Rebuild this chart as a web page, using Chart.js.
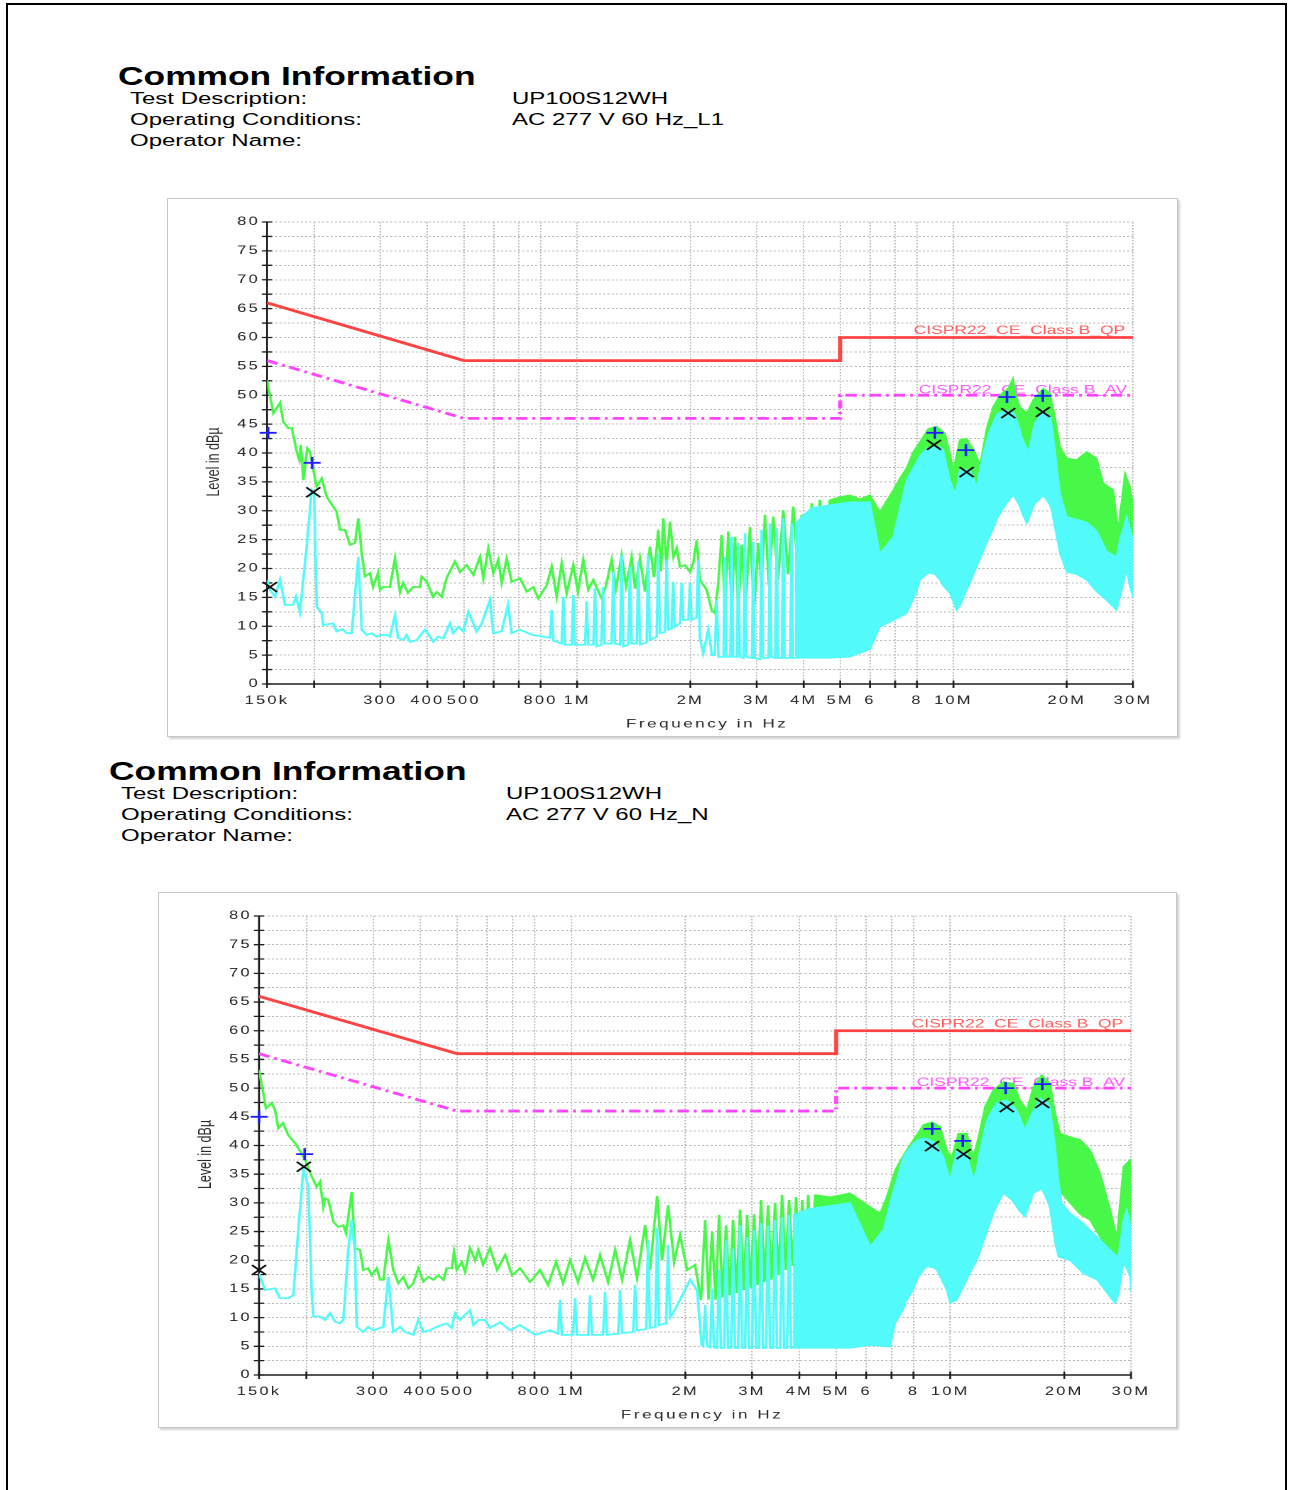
<!DOCTYPE html>
<html>
<head>
<meta charset="utf-8">
<script src="https://cdn.jsdelivr.net/npm/chart.js@4.4.1/dist/chart.umd.min.js"></script>
<style>
  html, body { margin: 0; padding: 0; background: #fff; }
  body { width: 1289px; height: 1490px; position: relative; overflow: hidden;
         font-family: "Liberation Sans", Arial, sans-serif; }
  .page { position: absolute; left: 6px; top: 3px; width: 1281px; height: 1600px;
          border: 2px solid #000; box-sizing: border-box; }
  .t { position: absolute; white-space: nowrap; line-height: 1; color: #000;
       transform-origin: 0 0; }
  .h { font-weight: bold; font-size: 26px; transform: scaleX(1.36); }
  .l { font-size: 16.9px; transform: scaleX(1.42); }
  .frame { position: absolute; border: 1px solid #c6c6c6; box-sizing: border-box;
           box-shadow: 2px 2px 2px rgba(0,0,0,0.18); background: #fff; }
  .wrap { position: absolute; transform-origin: 0 0; transform: scaleX(1.42); }
</style>
</head>
<body>
<div class="page"></div>

<div class="t h" style="left:118px;top:63px">Common Information</div>
<div class="t l" style="left:130px;top:90.7px">Test Description:</div>
<div class="t l" style="left:130px;top:111.7px">Operating Conditions:</div>
<div class="t l" style="left:130px;top:132.7px">Operator Name:</div>
<div class="t l" style="left:512px;top:90.7px">UP100S12WH</div>
<div class="t l" style="left:512px;top:111.7px">AC 277 V 60 Hz_L1</div>

<div class="frame" style="left:167px;top:198px;width:1011px;height:539px"></div>
<div class="wrap" style="left:168px;top:199px;width:711px;height:537px">
  <canvas id="chartL1" width="711" height="537"></canvas>
</div>

<div class="t h" style="left:109px;top:758px">Common Information</div>
<div class="t l" style="left:121px;top:785.7px">Test Description:</div>
<div class="t l" style="left:121px;top:806.7px">Operating Conditions:</div>
<div class="t l" style="left:121px;top:827.7px">Operator Name:</div>
<div class="t l" style="left:506px;top:785.7px">UP100S12WH</div>
<div class="t l" style="left:506px;top:806.7px">AC 277 V 60 Hz_N</div>

<div class="frame" style="left:158px;top:892px;width:1019px;height:536px"></div>
<div class="wrap" style="left:159px;top:893px;width:716px;height:534px">
  <canvas id="chartN" width="716" height="534"></canvas>
</div>

<script>
// ---- axes ----
const freqTicks = [0.15, 0.2, 0.3, 0.4, 0.5, 0.6, 0.7, 0.8, 1, 2, 3, 4, 5, 6, 7, 8, 10, 20, 30];
const freqTickText = ['150k', '', '300', '400', '500', '', '', '800', '1M', '2M', '3M', '4M', '5M', '6', '', '8', '10M', '20M', '30M'];
const levelMin = 0, levelMax = 80, levelStep = 2.5;

// ---- CISPR 22 class B limits (MHz / dBµV) ----
const limitFreq = [0.15, 0.5, 5, 5, 30];
const qpLimit = [66, 56, 56, 60, 60];
const avLimit = [56, 46, 46, 50, 50];
const qpLimitName = 'CISPR22_CE_Class B_QP';
const avLimitName = 'CISPR22_CE_Class B_AV';

// ---- L1: peak trace (MHz / dBµV) ----
const l1PeakFreq = [
  0.150, 0.1559, 0.1624, 0.1657, 0.1709, 0.1745, 0.1773, 0.1799, 0.1828, 0.1844,
  0.1873, 0.1919, 0.1951, 0.1991, 0.2033, 0.2096, 0.2162, 0.2297, 0.2344, 0.2417,
  0.2492, 0.2570, 0.2622, 0.2677, 0.2732, 0.2816, 0.2869, 0.2958, 0.2994, 0.3050,
  0.3183, 0.3282, 0.3384, 0.3447, 0.3554, 0.3665, 0.3825, 0.3865, 0.3985, 0.4141,
  0.4236, 0.4367, 0.4503, 0.4738, 0.4886, 0.5090, 0.5300, 0.5521, 0.5634, 0.5808,
  0.5988, 0.6174, 0.6304, 0.6500, 0.6702, 0.7050, 0.7347, 0.7650, 0.7887, 0.8302,
  0.8561, 0.8826, 0.9100, 0.9381, 0.9768, 1.0054, 1.0383, 1.0707, 1.1040, 1.1622,
  1.193, 1.2355, 1.268, 1.3135, 1.349, 1.3964, 1.425, 1.4693, 1.5149, 1.5617,
  1.6006, 1.6433, 1.670, 1.6944, 1.728, 1.7654, 1.8035, 1.8392, 1.8763, 1.9346,
  1.9947, 2.0355, 2.0782, 2.1208, 2.2097, 2.2782, 2.3245, 2.3718, 2.4216, 2.4712,
  2.5217, 2.5746, 2.6272, 2.6809, 2.7370, 2.801, 2.8793, 2.950, 3.0294, 3.089,
  3.156, 3.234, 3.320, 3.417, 3.530, 3.633, 3.753, 3.851, 3.951, 4.069,
  4.200, 4.313, 4.419, 4.557, 4.698];
const l1PeakLevel = [
  52.6, 46.9, 48.7, 45.4, 44.3, 44.3, 42.3, 40.2, 38.8, 41.4,
  35.3, 40.8, 40.2, 37.1, 34.2, 35.6, 32.4, 29.8, 26.7, 26.7,
  24.1, 24.4, 28.7, 22.7, 18.6, 19.2, 16.8, 19.2, 16.3, 16.8,
  16.8, 21.8, 15.9, 17.5, 15.8, 16.8, 16.8, 18.6, 17.7, 15.1,
  15.9, 15.1, 18.4, 21.2, 19.4, 20.6, 18.9, 22.0, 18.3, 23.5,
  19.2, 21.5, 17.5, 21.7, 17.7, 18.3, 16.0, 16.8, 14.8, 17.1,
  20.3, 15.1, 20.9, 15.7, 20.6, 16.0, 21.5, 16.3, 18.0, 14.8,
  17.0, 21.5, 16.5, 22.3, 17.0, 22.0, 16.5, 21.7, 16.0, 23.8,
  18.5, 26.7, 19.5, 28.7, 20.5, 28.1, 22.0, 23.5, 20.3, 20.6,
  19.4, 21.0, 24.9, 18.0, 16.3, 12.8, 12.2, 17.5, 25.8, 12.8,
  26.4, 13.0, 25.5, 12.8, 24.1, 13.0, 27.2, 12.8, 24.4, 17.0,
  29.3, 17.0, 29.0, 18.0, 30.1, 19.0, 30.7, 20.5, 29.3, 19.0,
  31.3, 23.0, 31.9, 22.0, 31.9];
// dense part of the peak sweep: upper / lower envelope
const l1PeakBandFreq = [
  4.698, 4.994, 5.309, 5.643, 5.999, 6.378, 6.918, 7.208, 7.509, 7.819,
  8.147, 8.571, 9.022, 9.494, 9.789, 9.987, 10.40, 10.84, 11.40, 11.76,
  12.25, 12.75, 13.29, 13.98, 14.41, 14.56, 15.02, 15.65, 16.29, 17.32,
  18.05, 18.61, 19.19, 19.99, 21.25, 22.59, 24.01, 25.00, 26.58, 27.40,
  28.55, 29.43, 30];
const l1PeakBandHigh = [
  31.9, 32.4, 32.7, 32.0, 32.7, 29.8, 33.6, 35.6, 37.4, 40.2,
  41.9, 44.2, 44.6, 43.4, 39.9, 37.1, 42.3, 42.5, 40.2, 37.9,
  44.2, 48.0, 50.0, 51.2, 53.0, 50.6, 48.0, 46.9, 49.2, 51.2,
  50.3, 46.3, 41.1, 39.1, 38.8, 40.2, 39.1, 34.8, 33.6, 26.7,
  36.5, 34.2, 31.0];
const l1PeakBandLow = [
  20, 20, 20, 20, 20, 18, 20, 24, 30, 33,
  36, 38, 38, 37, 33, 31, 35, 35, 32, 32,
  37, 42, 44, 45, 45, 44, 41, 39, 43, 45,
  44, 38, 31, 28, 27, 27, 25, 23, 21, 20,
  26, 25, 22];

// ---- L1: average trace ----
const l1AvgFreq = [
  0.150, 0.1528, 0.1575, 0.1624, 0.1675, 0.1758, 0.1791, 0.1835, 0.1912, 0.1972,
  0.2000, 0.2033, 0.2096, 0.2117, 0.2245, 0.2297, 0.2387, 0.2442, 0.2518, 0.2622,
  0.2677, 0.2761, 0.2846, 0.2935, 0.3026, 0.3120, 0.3183, 0.3282, 0.3343, 0.3452,
  0.3525, 0.3597, 0.3748, 0.3943, 0.4065, 0.4148, 0.4277, 0.4410, 0.4594, 0.4689,
  0.4835, 0.4985, 0.5140, 0.5410, 0.5578, 0.5869, 0.5988, 0.6304, 0.6552, 0.6702,
  0.7050, 0.7600, 0.8480, 0.8561, 0.8650, 0.9100, 0.9191, 0.9290, 0.9680, 0.9768,
  0.9870, 1.0500, 1.0603, 1.0710, 1.1050, 1.1156, 1.1270, 1.1600, 1.1717, 1.1830,
  1.2350, 1.2477, 1.2600, 1.3000, 1.3135, 1.3270, 1.3680, 1.3820, 1.3960, 1.4400,
  1.4540, 1.4690, 1.5300, 1.5451, 1.5600, 1.6270, 1.6433, 1.6600, 1.7120, 1.7295,
  1.7470, 1.7820, 1.8004, 1.8180, 1.8780, 1.8960, 1.9150, 1.9750, 1.9947, 2.0150,
  2.0770, 2.0985, 2.1200, 2.1635, 2.2307, 2.2826, 2.3200, 2.3491, 2.3750, 2.4500,
  2.4712, 2.4920, 2.5530, 2.5746, 2.5960, 2.6590, 2.6809, 2.7030, 2.7700, 2.7934,
  2.8170, 2.9140, 2.9387, 2.9630, 3.0670, 3.0930, 3.1190, 3.2270, 3.2540, 3.2810,
  3.3620, 3.3900, 3.4180, 3.5010, 3.5300, 3.5590, 3.6850, 3.7160, 3.7470, 3.7920];
const l1AvgLevel = [
  18.0, 16.3, 15.1, 18.0, 13.7, 13.7, 15.1, 12.5, 23.8, 33.6,
  33.1, 13.4, 12.3, 10.2, 10.5, 9.1, 9.5, 8.8, 8.8, 22.0,
  9.4, 8.5, 8.8, 8.2, 8.5, 8.5, 8.2, 11.9, 8.0, 7.6,
  8.5, 7.3, 7.6, 9.4, 8.2, 7.3, 8.2, 7.9, 10.5, 8.8,
  9.9, 9.1, 12.5, 9.1, 10.5, 14.5, 8.8, 9.1, 13.7, 8.8,
  9.4, 8.5, 8.0, 12.8, 7.5, 7.0, 15.1, 6.8, 6.8, 15.4,
  6.8, 6.8, 14.3, 6.8, 6.8, 16.6, 6.5, 6.8, 16.8, 7.0,
  7.0, 19.4, 7.0, 6.8, 22.3, 6.5, 6.8, 20.3, 7.0, 7.0,
  21.2, 6.8, 7.2, 22.3, 7.6, 8.2, 22.6, 8.8, 9.0, 21.5,
  9.4, 9.6, 17.7, 9.9, 10.5, 17.5, 11.1, 11.1, 17.5, 11.1,
  11.5, 21.5, 8.0, 5.3, 9.4, 5.0, 5.0, 14.5, 4.7, 4.7,
  22.0, 4.7, 4.7, 25.5, 4.7, 4.7, 24.4, 4.7, 4.5, 26.1,
  4.7, 4.5, 24.6, 4.5, 4.3, 26.7, 4.5, 4.5, 27.8, 4.7,
  4.5, 27.0, 4.5, 4.5, 28.7, 4.5, 4.5, 27.8, 4.5, 4.5];
const l1AvgBandFreq = [
  3.792, 4.200, 4.698, 5.309, 5.999, 6.378, 6.918, 7.509, 7.983, 8.147,
  8.487, 8.660, 8.930, 9.207, 9.394, 9.789, 10.09, 10.20, 10.40, 10.84,
  11.06, 11.52, 12.00, 12.25, 12.50, 13.02, 13.15, 13.84, 14.41, 14.56,
  15.02, 15.18, 15.65, 15.80, 16.29, 16.46, 17.32, 18.05, 18.24, 18.61,
  19.19, 19.99, 21.25, 22.59, 24.01, 25.53, 27.13, 27.69, 28.84, 29.43,
  30];
const l1AvgBandHigh = [
  27.8, 30.5, 31.0, 31.5, 31.5, 22.6, 25.5, 35.3, 38.5, 39.5,
  40.8, 41.0, 41.1, 41.0, 40.5, 35.3, 33.0, 34.0, 37.1, 37.1,
  37.1, 34.2, 39.9, 42.0, 44.0, 46.5, 46.9, 47.4, 47.0, 46.6,
  44.0, 42.8, 40.8, 40.2, 44.0, 45.1, 47.4, 46.3, 45.0, 40.5,
  33.0, 29.0, 28.5, 28.0, 26.5, 23.0, 22.0, 25.0, 29.0, 27.0,
  25.0];
const l1AvgBandLow = [
  4.5, 4.5, 4.5, 4.7, 6.0, 9.9, 11.0, 12.2, 16.0, 18.0,
  19.0, 19.2, 19.0, 18.0, 17.0, 15.7, 13.5, 12.8, 13.5, 16.3,
  17.5, 20.3, 23.0, 24.4, 25.6, 28.4, 29.0, 31.3, 32.7, 32.3,
  30.7, 29.8, 27.8, 28.3, 30.7, 31.2, 32.7, 31.0, 30.1, 27.0,
  22.6, 19.4, 19.0, 18.0, 16.0, 14.5, 12.8, 15.0, 19.7, 17.0,
  15.0];

// ---- L1: final measurement results ----
const l1QpMarkFreq = [0.151, 0.1976, 8.93, 10.79, 13.87, 17.28];
const l1QpMarkLevel = [43.5, 38.3, 43.5, 40.5, 49.7, 49.9];
const l1AvMarkFreq = [0.1528, 0.1991, 8.876, 10.84, 13.98, 17.28];
const l1AvMarkLevel = [16.8, 33.2, 41.4, 36.7, 46.9, 47.1];

// ---- N: peak trace ----
const nPeakFreq = [
  0.150, 0.1565, 0.1620, 0.1653, 0.1687, 0.1736, 0.1792, 0.1867, 0.1944, 0.1984,
  0.2066, 0.2130, 0.2173, 0.2217, 0.2240, 0.2286, 0.2356, 0.2429, 0.2504, 0.2545,
  0.2635, 0.2688, 0.2771, 0.2827, 0.2914, 0.2975, 0.3067, 0.3129, 0.3193, 0.3291,
  0.3392, 0.3497, 0.3605, 0.3716, 0.3831, 0.3949, 0.4071, 0.4196, 0.4326, 0.4459,
  0.4597, 0.4693, 0.4838, 0.4906, 0.4988, 0.5142, 0.5246, 0.5408, 0.5574, 0.5687,
  0.5853, 0.6106, 0.6372, 0.6690, 0.6981, 0.7328, 0.7786, 0.8273, 0.8685, 0.9117,
  0.9514, 0.9928, 1.042, 1.0875, 1.1415, 1.1914, 1.2509, 1.3053, 1.3617, 1.4297,
  1.4918, 1.566, 1.614, 1.685, 1.737, 1.801, 1.868, 1.937, 2.022, 2.122,
  2.200, 2.256, 2.304, 2.353, 2.404, 2.455, 2.508, 2.562, 2.617, 2.673,
  2.731, 2.790, 2.850, 2.911, 2.974, 3.038, 3.103, 3.169, 3.237, 3.307,
  3.378, 3.450, 3.525, 3.601, 3.678, 3.757, 3.838, 3.920, 3.995, 4.070,
  4.145, 4.220, 4.310, 4.401];
const nPeakLevel = [
  53.2, 46.5, 47.4, 46.2, 43.0, 43.9, 41.8, 40.4, 38.6, 37.5,
  34.6, 32.8, 33.7, 29.3, 30.8, 30.5, 26.7, 25.8, 26.1, 24.7,
  31.9, 22.1, 21.8, 18.3, 18.6, 17.4, 18.6, 16.6, 16.6, 23.5,
  18.3, 16.0, 17.1, 15.1, 16.0, 18.6, 16.3, 17.1, 16.6, 17.4,
  16.6, 18.6, 18.6, 21.5, 18.3, 19.7, 18.0, 22.1, 20.0, 21.8,
  19.2, 22.1, 18.3, 20.9, 17.4, 18.6, 16.2, 18.3, 15.7, 19.7,
  16.0, 20.0, 16.2, 20.4, 16.6, 20.9, 16.2, 21.8, 16.6, 23.5,
  16.9, 26.1, 18.3, 31.2, 20.0, 29.6, 19.7, 24.4, 18.3, 19.2,
  13.1, 27.0, 13.1, 25.0, 13.1, 27.9, 13.5, 26.1, 13.9, 27.0,
  14.3, 28.8, 14.8, 27.9, 15.2, 28.0, 15.7, 30.5, 16.2, 29.6,
  16.6, 30.0, 17.4, 31.4, 18.3, 30.5, 19.0, 31.0, 19.5, 30.5,
  20.0, 31.4, 20.0, 31.4];
const nPeakBandFreq = [
  4.401, 4.821, 5.444, 6.150, 6.533, 6.803, 7.155, 7.525, 7.997, 8.499,
  8.943, 9.406, 9.796, 10.10, 10.51, 11.06, 11.52, 11.87, 12.36, 13.00,
  13.82, 14.68, 15.29, 15.93, 16.58, 17.44, 18.36, 18.92, 19.50, 20.72,
  22.03, 23.41, 24.87, 26.43, 27.52, 28.65, 29.85, 30];
const nPeakBandHigh = [
  31.4, 31.0, 31.7, 29.3, 28.2, 31.1, 35.7, 38.3, 41.0, 43.6,
  44.1, 43.3, 39.2, 38.0, 42.1, 42.1, 38.0, 41.5, 46.8, 49.7,
  51.1, 50.8, 47.9, 46.2, 50.2, 52.3, 50.8, 45.6, 42.1, 41.5,
  41.0, 39.2, 35.1, 28.8, 24.1, 36.3, 37.5, 33.0];
const nPeakBandLow = [
  20, 20, 20, 20, 18, 20, 24, 30, 34, 37,
  38, 37, 33, 30, 35, 35, 31, 35, 40, 43,
  44, 43, 41, 39, 43, 45, 44, 37, 32, 30,
  28, 27, 24, 21, 20, 26, 27, 25];

// ---- N: average trace ----
const nAvgFreq = [
  0.150, 0.1556, 0.1653, 0.1704, 0.1792, 0.1848, 0.1905, 0.1964, 0.2024, 0.2066,
  0.2086, 0.2173, 0.2240, 0.2309, 0.2380, 0.2454, 0.2504, 0.2580, 0.2635, 0.2688,
  0.2716, 0.2827, 0.2914, 0.3005, 0.3193, 0.3291, 0.3392, 0.3533, 0.3642, 0.3831,
  0.3949, 0.4071, 0.4240, 0.4417, 0.4693, 0.4838, 0.4935, 0.5088, 0.5246, 0.5408,
  0.5519, 0.5687, 0.5924, 0.6106, 0.6489, 0.6897, 0.7328, 0.8026, 0.8792, 0.9230,
  0.9342, 0.9450, 1.0110, 1.0235, 1.0360, 1.1080, 1.1211, 1.1340, 1.2140, 1.2282,
  1.2420, 1.3300, 1.3455, 1.3610, 1.4570, 1.4738, 1.4900, 1.5770, 1.5950, 1.6130,
  1.6660, 1.6850, 1.7040, 1.7800, 1.8010, 1.8220, 1.8450, 1.9370, 2.0590, 2.1480,
  2.2100, 2.2290, 2.2560, 2.2830, 2.3250, 2.3530, 2.3810, 2.4260, 2.4550, 2.4850,
  2.5310, 2.5620, 2.5930, 2.6410, 2.6730, 2.7050, 2.7570, 2.7900, 2.8240, 2.8760,
  2.9110, 2.9460, 3.0020, 3.0380, 3.0750, 3.1310, 3.1690, 3.2070, 3.2670, 3.3070,
  3.3470, 3.4090, 3.4500, 3.4920, 3.5580, 3.6010, 3.6450, 3.7120, 3.7570, 3.8020,
  3.8500];
const nAvgLevel = [
  17.7, 14.8, 15.1, 13.4, 13.4, 13.9, 25.3, 35.9, 32.8, 14.5,
  10.2, 10.2, 9.6, 10.8, 9.3, 9.0, 9.6, 21.8, 27.0, 21.2,
  8.4, 7.5, 8.4, 7.8, 8.4, 17.1, 7.5, 8.4, 7.5, 7.0,
  9.6, 7.5, 7.8, 8.4, 9.0, 8.2, 10.8, 9.6, 10.5, 11.3,
  8.7, 9.6, 9.6, 8.2, 9.2, 7.8, 8.7, 7.0, 7.8, 7.2,
  13.1, 7.0, 7.0, 13.4, 7.0, 7.0, 13.9, 7.0, 7.0, 14.5,
  7.0, 7.2, 14.8, 7.3, 7.5, 15.7, 7.8, 8.0, 23.5, 8.2,
  8.4, 25.6, 8.7, 9.0, 22.7, 10.0, 10.5, 13.1, 16.6, 14.8,
  5.2, 5.0, 12.2, 5.0, 4.8, 15.0, 4.8, 4.7, 18.3, 4.7,
  4.7, 23.5, 4.7, 4.7, 22.0, 4.7, 4.7, 26.1, 4.7, 4.7,
  24.0, 4.7, 4.7, 25.3, 4.7, 4.7, 26.5, 4.7, 4.7, 26.1,
  4.7, 4.7, 27.0, 4.7, 4.7, 27.5, 4.7, 4.7, 27.9, 4.7,
  4.7];
const nAvgBandFreq = [
  3.850, 4.270, 4.821, 5.444, 6.150, 6.665, 6.940, 7.155, 7.525, 7.603,
  7.997, 8.164, 8.499, 8.676, 9.030, 9.219, 9.596, 9.796, 9.995, 10.41,
  11.06, 11.52, 11.76, 11.99, 12.36, 12.62, 13.00, 13.27, 13.82, 14.11,
  14.54, 14.99, 15.14, 15.76, 16.42, 16.58, 17.26, 17.44, 18.16, 18.36,
  18.92, 19.30, 19.71, 20.72, 22.47, 24.39, 26.43, 27.24, 27.79, 28.65,
  29.25, 29.85, 30];
const nAvgBandHigh = [
  27.9, 29.0, 29.5, 30.0, 22.4, 25.3, 30.0, 33.0, 38.0, 38.5,
  40.4, 40.8, 41.3, 41.2, 40.7, 40.0, 38.0, 36.0, 34.0, 39.2,
  38.6, 34.0, 36.0, 39.2, 43.0, 45.0, 46.5, 47.4, 47.8, 47.9,
  47.0, 46.2, 45.5, 42.7, 45.6, 46.0, 48.2, 48.0, 47.4, 46.5,
  39.8, 34.0, 29.9, 28.2, 26.4, 24.1, 21.8, 21.0, 20.6, 27.0,
  28.8, 26.0, 25.3];
const nAvgBandLow = [
  4.7, 4.7, 4.7, 4.7, 5.2, 5.0, 4.9, 9.0, 11.5, 12.5,
  15.0, 16.6, 18.3, 18.9, 18.7, 18.3, 16.0, 14.8, 12.5, 13.1,
  16.6, 19.0, 20.0, 21.5, 24.1, 25.8, 28.2, 29.5, 31.7, 31.2,
  30.5, 29.3, 28.8, 27.6, 30.8, 31.7, 32.3, 32.5, 30.0, 28.8,
  23.0, 20.6, 20.4, 20.0, 17.7, 16.6, 13.6, 12.5, 14.0, 19.5,
  18.5, 17.1, 14.5];

// ---- N: final measurement results ----
const nQpMarkFreq = [0.150, 0.198, 8.96, 10.8, 14.0, 17.5];
const nQpMarkLevel = [45.0, 38.5, 42.9, 40.8, 50.0, 50.7];
const nAvMarkFreq = [0.150, 0.197, 8.96, 10.85, 14.1, 17.5];
const nAvMarkLevel = [18.3, 36.3, 39.9, 38.5, 46.7, 47.4];

// ---------------------------------------------------------------
const FONT = '"Liberation Sans", Arial, sans-serif';
const GREEN = 'rgb(72,248,72)';
const CYAN = 'rgb(82,250,250)';

function pts(f, v) { return f.map((x, i) => ({ x: x, y: v[i] })); }

// axis lines with crossing tick marks, limit captions and axis titles
const axisDeco = {
  id: 'axisDeco',
  beforeDraw(chart) { chart.ctx.letterSpacing = '1.6px'; },
  beforeDatasetsDraw(chart) {
    const { ctx, chartArea: a, scales: { x, y } } = chart;
    ctx.save();
    ctx.letterSpacing = '0px';
    ctx.font = '12.3px ' + FONT;
    ctx.textAlign = 'right';
    ctx.textBaseline = 'alphabetic';
    ctx.fillStyle = '#ff5a5a';
    ctx.fillText(qpLimitName, x.getPixelForValue(30) - 5.5, y.getPixelForValue(qpLimit[4]) - 3.5);
    ctx.fillStyle = '#ff55ff';
    ctx.fillText(avLimitName, x.getPixelForValue(30) - 4.2, y.getPixelForValue(avLimit[4]) - 2);

    ctx.strokeStyle = '#1e1e1e';
    ctx.lineWidth = 1.4;
    ctx.beginPath();
    ctx.moveTo(a.left, a.top);
    ctx.lineTo(a.left, a.bottom);
    ctx.lineTo(a.right, a.bottom);
    ctx.stroke();
    ctx.lineWidth = 1.3;
    ctx.beginPath();
    y.ticks.forEach(t => {
      const py = y.getPixelForValue(t.value);
      ctx.moveTo(a.left - 3.6, py); ctx.lineTo(a.left + 3.6, py);
    });
    x.ticks.forEach(t => {
      const px = x.getPixelForValue(t.value);
      ctx.moveTo(px, a.bottom - 3.5); ctx.lineTo(px, a.bottom + 4);
    });
    ctx.stroke();

    ctx.fillStyle = '#2a2a2a';
    ctx.textAlign = 'center';
    ctx.textBaseline = 'middle';
    ctx.font = '12.5px ' + FONT;
    ctx.save();
    ctx.translate(a.left - 37.4, (a.top + a.bottom) / 2 + 9);
    ctx.rotate(-Math.PI / 2);
    ctx.fillText('Level in dBµ', 0, 0);
    ctx.restore();
    ctx.letterSpacing = '1.8px';
    ctx.font = '12px ' + FONT;
    ctx.fillText('Frequency in Hz', (a.left + a.right) / 2 + 5, a.bottom + 40);
    ctx.restore();
  }
};

function buildChart(id, d) {
  const datasets = [
    { data: pts(d.qpMarkF, d.qpMarkL), showLine: false, pointStyle: 'cross', pointRadius: 6,
      pointBorderWidth: 1.8, pointBorderColor: '#2020ff', borderColor: '#2020ff', order: 0, clip: false },
    { data: pts(d.avMarkF, d.avMarkL), showLine: false, pointStyle: 'crossRot', pointRadius: 7,
      pointBorderWidth: 1.6, pointBorderColor: '#111', borderColor: '#111', order: 0, clip: false },
    { data: pts(d.avgF, d.avgL), borderColor: CYAN, borderWidth: 1.8, order: 1 },
    { data: pts(d.avgBandF, d.avgBandHi), borderColor: CYAN, borderWidth: 1.2, backgroundColor: CYAN, fill: '+1', order: 1 },
    { data: pts(d.avgBandF, d.avgBandLo), borderColor: CYAN, borderWidth: 1.2, order: 1 },
    { data: pts(d.pkF, d.pkL), borderColor: GREEN, borderWidth: 1.8, order: 2 },
    { data: pts(d.pkBandF, d.pkBandHi), borderColor: GREEN, borderWidth: 1.2, backgroundColor: GREEN, fill: '+1', order: 2 },
    { data: pts(d.pkBandF, d.pkBandLo), borderColor: GREEN, borderWidth: 1.2, order: 2 },
    { data: pts(limitFreq, qpLimit), borderColor: '#ff4343', borderWidth: 2.8, order: 3 },
    { data: pts(limitFreq, avLimit), borderColor: '#ff44ff', borderWidth: 2.8, borderDash: [8, 3.5, 2, 3.5], order: 3 }
  ];
  const grid = { color: '#bcbcbc', lineWidth: 1, drawTicks: false, borderDash: [1.5, 1.5] };
  const border = { display: false, dash: [1.5, 1.5] };
  const tickFont = { family: FONT, size: 11.5 };
  return new Chart(document.getElementById(id), {
    type: 'line',
    data: { datasets },
    options: {
      responsive: false,
      animation: false,
      devicePixelRatio: 2,
      events: [],
      layout: { padding: { left: 0, top: 23, right: d.padRight, bottom: 0 } },
      elements: { point: { radius: 0 }, line: { tension: 0 } },
      plugins: { legend: { display: false }, tooltip: { enabled: false } },
      scales: {
        x: {
          type: 'logarithmic', position: 'bottom', min: 0.15, max: 30,
          afterBuildTicks: s => { s.ticks = freqTicks.map(v => ({ value: v })); },
          afterFit: s => { s.height = 52; },
          ticks: { autoSkip: false, maxRotation: 0, minRotation: 0, padding: 10, color: '#222',
                   font: tickFont, callback: (v, i) => freqTickText[i] },
          grid, border
        },
        y: {
          min: levelMin, max: levelMax,
          afterFit: s => { s.width = d.axisWidth; },
          ticks: { stepSize: levelStep, autoSkip: false, padding: 5, color: '#222', font: tickFont,
                   callback: v => (v % 5 === 0 ? String(v) : '') },
          grid, border
        }
      }
    },
    plugins: [axisDeco]
  });
}

buildChart('chartL1', {
  axisWidth: 69.72, padRight: 31.42,
  pkF: l1PeakFreq, pkL: l1PeakLevel,
  pkBandF: l1PeakBandFreq, pkBandHi: l1PeakBandHigh, pkBandLo: l1PeakBandLow,
  avgF: l1AvgFreq, avgL: l1AvgLevel,
  avgBandF: l1AvgBandFreq, avgBandHi: l1AvgBandHigh, avgBandLo: l1AvgBandLow,
  qpMarkF: l1QpMarkFreq, qpMarkL: l1QpMarkLevel, avMarkF: l1AvMarkFreq, avMarkL: l1AvMarkLevel
});
buildChart('chartN', {
  axisWidth: 70.42, padRight: 31.49,
  pkF: nPeakFreq, pkL: nPeakLevel,
  pkBandF: nPeakBandFreq, pkBandHi: nPeakBandHigh, pkBandLo: nPeakBandLow,
  avgF: nAvgFreq, avgL: nAvgLevel,
  avgBandF: nAvgBandFreq, avgBandHi: nAvgBandHigh, avgBandLo: nAvgBandLow,
  qpMarkF: nQpMarkFreq, qpMarkL: nQpMarkLevel, avMarkF: nAvMarkFreq, avMarkL: nAvMarkLevel
});
</script>
</body>
</html>
